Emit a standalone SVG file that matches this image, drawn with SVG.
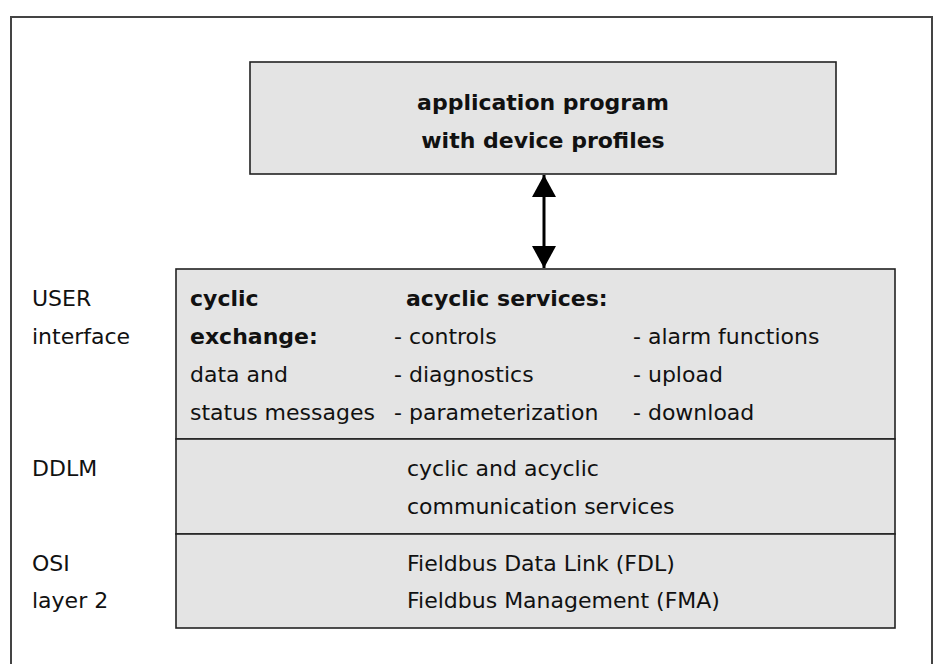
<svg xmlns="http://www.w3.org/2000/svg" width="935" height="664" viewBox="0 0 935 664">
  <defs>
    <style>
      .frame { fill: none; stroke: #444; stroke-width: 2; }
      .box { fill: #e4e4e4; stroke: #222; stroke-width: 1.6; }
      text { font-family: "DejaVu Sans", "Liberation Sans", sans-serif; font-size: 22px; fill: #111; }
      .b { font-weight: bold; }
      .c { text-anchor: middle; }
      .link { stroke: #000; stroke-width: 3; fill: none; }
    </style>
    <marker id="head" viewBox="0 0 22 24" refX="22" refY="12" markerWidth="22" markerHeight="24" markerUnits="userSpaceOnUse" orient="auto-start-reverse">
      <path d="M0,0 L22,12 L0,24 Z" fill="#000"/>
    </marker>
  </defs>

  <!-- outer frame, open past the lower edge -->
  <rect class="frame" x="11" y="17" width="921" height="670"/>

  <g id="application">
    <rect class="box" x="250" y="62" width="586" height="112"/>
    <text class="b c" x="543" y="110">application program</text>
    <text class="b c" x="543" y="148">with device profiles</text>
  </g>

  <g id="connectors">
    <line class="link" x1="544" y1="175" x2="544" y2="268" marker-start="url(#head)" marker-end="url(#head)"/>
  </g>

  <g id="user-interface">
    <rect class="box" x="176" y="269" width="719" height="170"/>
    <text x="32" y="306">USER</text>
    <text x="32" y="344">interface</text>
    <text class="b" x="190" y="306">cyclic</text>
    <text class="b" x="190" y="344">exchange:</text>
    <text x="190" y="382">data and</text>
    <text x="190" y="420">status messages</text>
    <text class="b" x="406" y="306">acyclic services:</text>
    <text x="394" y="344">- controls</text>
    <text x="394" y="382">- diagnostics</text>
    <text x="394" y="420">- parameterization</text>
    <text x="633" y="344">- alarm functions</text>
    <text x="633" y="382">- upload</text>
    <text x="633" y="420">- download</text>
  </g>

  <g id="ddlm">
    <rect class="box" x="176" y="439" width="719" height="95"/>
    <text x="32" y="476">DDLM</text>
    <text x="407" y="476">cyclic and acyclic</text>
    <text x="407" y="514">communication services</text>
  </g>

  <g id="osi-layer2">
    <rect class="box" x="176" y="534" width="719" height="94"/>
    <text x="32" y="571">OSI</text>
    <text x="32" y="608">layer 2</text>
    <text x="407" y="571">Fieldbus Data Link (FDL)</text>
    <text x="407" y="608">Fieldbus Management (FMA)</text>
  </g>
</svg>
